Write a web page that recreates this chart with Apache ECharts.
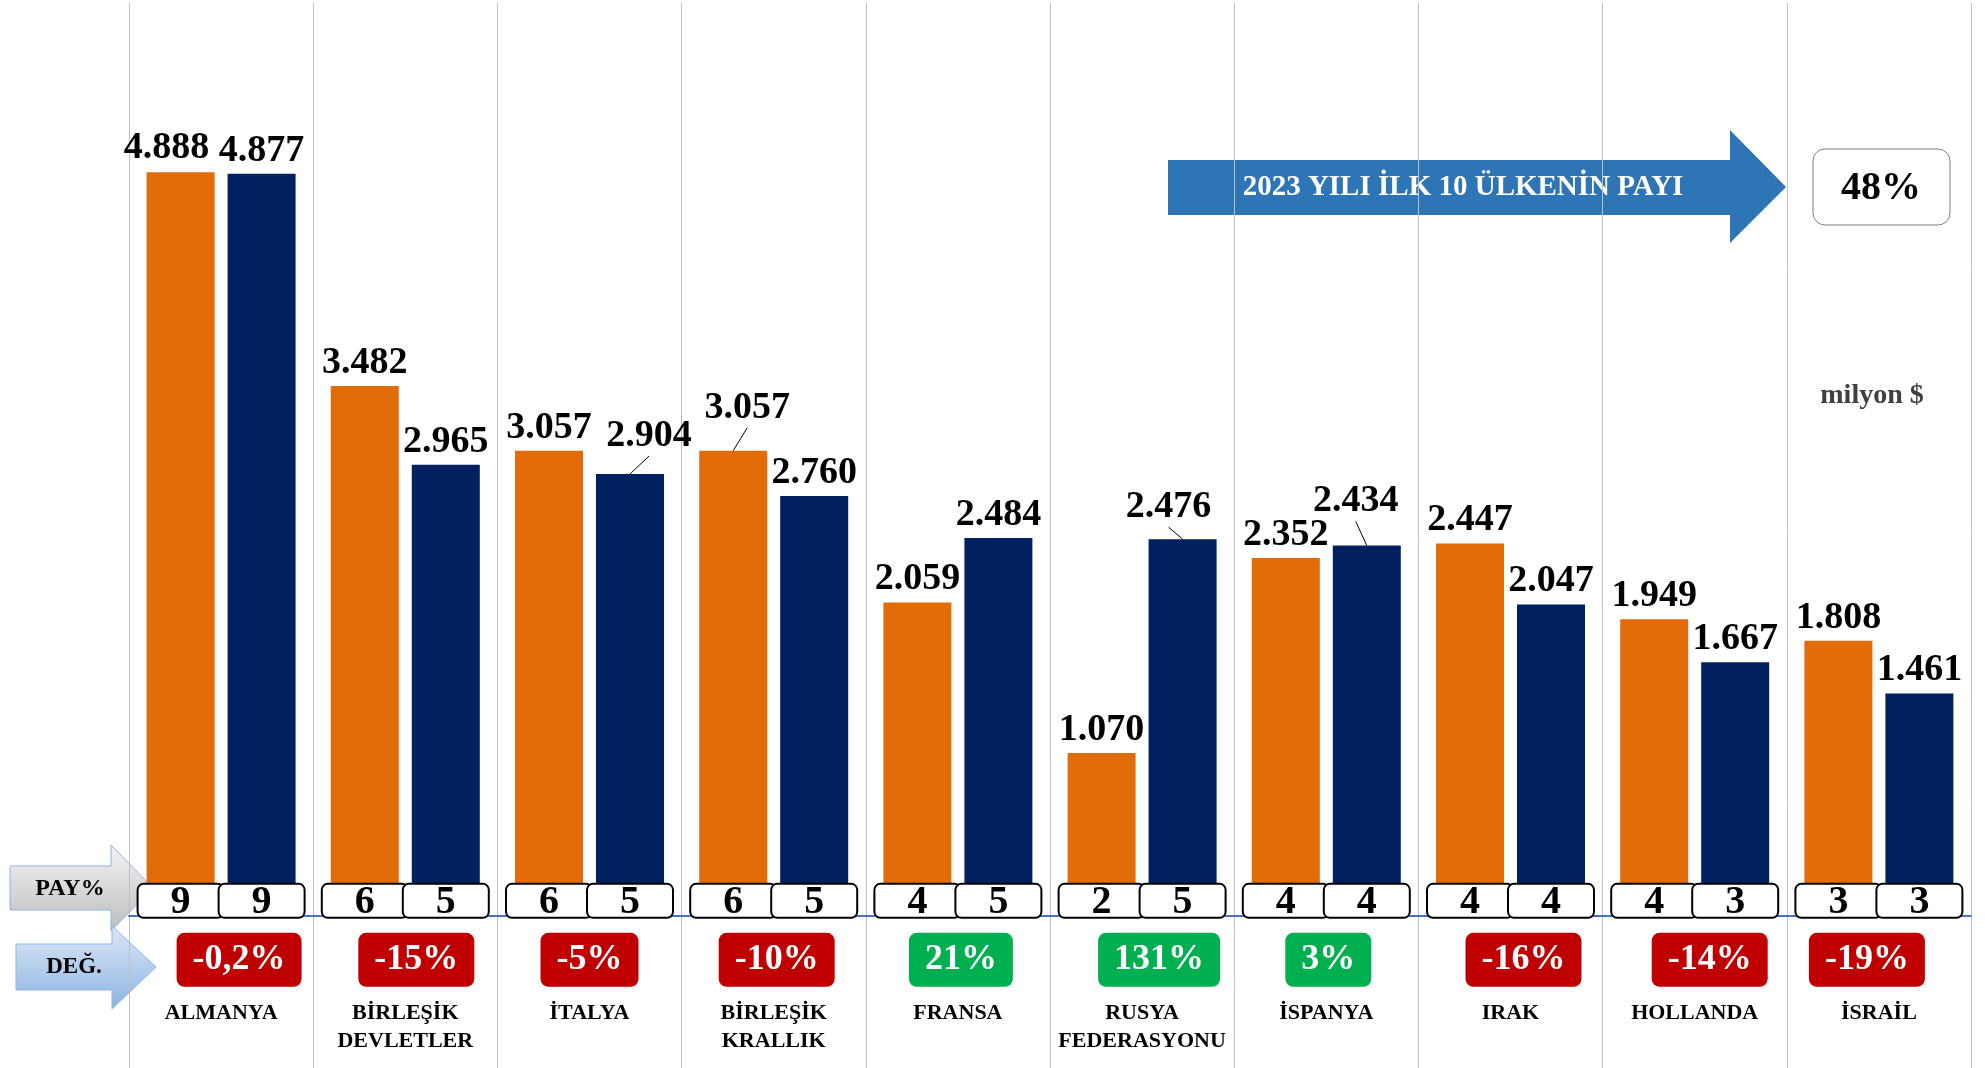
<!DOCTYPE html>
<html>
<head>
<meta charset="utf-8">
<script src="https://cdn.jsdelivr.net/npm/echarts@6/dist/echarts.min.js"></script>
<style>
  html, body { margin: 0; padding: 0; background: #fff; }
  #chart { width: 1985px; height: 1068px; }
</style>
</head>
<body>
<div id="chart"></div>
<script>
// ülkeler
const countries = ['ALMANYA', 'BİRLEŞİK\nDEVLETLER', 'İTALYA', 'BİRLEŞİK\nKRALLIK', 'FRANSA',
  'RUSYA\nFEDERASYONU', 'İSPANYA', 'IRAK', 'HOLLANDA', 'İSRAİL'];
// milyon $
const values2022 = [4888, 3482, 3057, 3057, 2059, 1070, 2352, 2447, 1949, 1808];
const values2023 = [4877, 2965, 2904, 2760, 2484, 2476, 2434, 2047, 1667, 1461];
// PAY %
const pay2022 = [9, 6, 6, 6, 4, 2, 4, 4, 4, 3];
const pay2023 = [9, 5, 5, 5, 5, 5, 4, 4, 3, 3];
// DEĞ. %
const change = [-0.2, -15, -5, -10, 21, 131, 3, -16, -14, -19];
const totalShare = '48%';

// label nudges (px) – a few labels were moved by hand in the original
const labelNudge2022 = { 0: [-14, -1], 3: [14, -20] };
const labelNudge2023 = { 2: [19, -15], 5: [-14, -9], 6: [-11, -21] };
const leader2022 = [3];
const leader2023 = [2, 5, 6];
const degNudge = [18, 11, 0, 3, 3, 17, 2, 13, 15, -12];

const SERIF = '"Liberation Serif", "DejaVu Serif", serif';
const ORANGE = '#E36C0A';
const NAVY = '#002060';
const BAR_W = 68;
const BAR_GAP = 13;
const LABEL_DIST = 4;

const fmt = v => String(v).replace(/\B(?=(\d{3})+(?!\d))/g, '.');
const fmtPct = v => String(v).replace('.', ',') + '%';

const chart = echarts.init(document.getElementById('chart'));

const valueLabel = {
  show: true,
  position: 'top',
  distance: LABEL_DIST,
  color: '#000',
  fontFamily: SERIF,
  fontWeight: 'bold',
  fontSize: 38,
  formatter: p => fmt(p.value)
};

const layoutFrom = nudge => p => {
  const n = nudge[p.dataIndex];
  return n ? { dx: n[0], dy: n[1] } : {};
};

const option = {
  animation: false,
  grid: { left: 129, right: 14, top: 3, bottom: 0, outerBoundsMode: 'none', containLabel: false },
  xAxis: {
    type: 'category',
    data: countries,
    axisLine: { onZero: true, lineStyle: { color: '#4472C4', width: 2 } },
    axisTick: { show: false },
    splitLine: { show: true, lineStyle: { color: '#BFBFBF', width: 1 } },
    axisLabel: { show: false }
  },
  yAxis: {
    type: 'value',
    min: -1000,
    max: 6000,
    show: false,
    splitLine: { show: false }
  },
  series: [
    {
      name: '2022',
      type: 'bar',
      data: values2022,
      barWidth: BAR_W,
      barGap: (BAR_GAP / BAR_W * 100).toFixed(1) + '%',
      itemStyle: { color: ORANGE },
      label: valueLabel,
      labelLayout: layoutFrom(labelNudge2022)
    },
    {
      name: '2023',
      type: 'bar',
      data: values2023,
      barWidth: BAR_W,
      itemStyle: { color: NAVY },
      label: valueLabel,
      labelLayout: layoutFrom(labelNudge2023)
    },
    {
      // PAY% kutuları, DEĞ. etiketleri, ülke adları ve kılavuz çizgileri
      type: 'custom',
      z: 10,
      data: countries.map((c, i) => [i, 0]),
      renderItem: (params, api) => {
        const i = api.value(0);
        const p = api.coord([i, 0]);
        const off = (BAR_W + BAR_GAP) / 2;
        const children = [];

        // leader lines from moved labels to bar tops
        [[values2022, labelNudge2022, leader2022, -off], [values2023, labelNudge2023, leader2023, off]]
          .forEach(([vals, nudge, leaders, dx]) => {
            if (!leaders.includes(i)) return;
            const top = api.coord([i, vals[i]]);
            const bx = p[0] + dx;
            const n = nudge[i];
            children.push({
              type: 'line',
              shape: { x1: bx + n[0], y1: top[1] - LABEL_DIST + n[1] + 1, x2: bx, y2: top[1] },
              style: { stroke: '#000', lineWidth: 1 }
            });
          });

        [[pay2022[i], -off], [pay2023[i], off]].forEach(([v, dx]) => {
          const cx = p[0] + dx;
          children.push({
            type: 'rect',
            shape: { x: cx - 43, y: p[1] - 32, width: 86, height: 34, r: 6 },
            style: { fill: '#fff', stroke: '#000', lineWidth: 2 }
          });
          children.push({
            type: 'text',
            style: {
              text: String(v), x: cx, y: p[1] - 13,
              align: 'center', verticalAlign: 'middle',
              fill: '#000', font: 'bold 40px ' + SERIF
            }
          });
        });
        const c = change[i];
        children.push({
          type: 'text',
          style: {
            text: fmtPct(c), x: p[0] + degNudge[i], y: p[1] + 44,
            align: 'center', verticalAlign: 'middle',
            fill: '#fff', font: 'bold 36px ' + SERIF,
            backgroundColor: c < 0 ? '#C00000' : '#00B050',
            borderRadius: 8,
            padding: [10, 16, 8, 16]
          }
        });
        children.push({
          type: 'text',
          style: {
            text: countries[i], x: p[0], y: p[1] + 83,
            align: 'center', verticalAlign: 'top',
            fill: '#000', font: 'bold 22px ' + SERIF,
            lineHeight: 28
          }
        });
        return { type: 'group', children };
      }
    }
  ],
  graphic: [
    // PAY% ok
    {
      type: 'polygon',
      shape: { points: [[10, 866], [111, 866], [111, 845], [153, 888], [111, 931], [111, 910], [10, 910]] },
      style: {
        fill: new echarts.graphic.LinearGradient(0, 0, 0, 1, [
          { offset: 0, color: '#F4F4F4' }, { offset: 1, color: '#BDBDBD' }
        ]),
        stroke: '#8EB4E3', lineWidth: 1
      }
    },
    {
      type: 'text', x: 70, y: 889,
      style: { text: 'PAY%', align: 'center', verticalAlign: 'middle', fill: '#000', font: 'bold 24px ' + SERIF }
    },
    // DEĞ. ok
    {
      type: 'polygon',
      shape: { points: [[16, 944], [112, 944], [112, 926], [156, 967], [112, 1009], [112, 990], [16, 990]] },
      style: {
        fill: new echarts.graphic.LinearGradient(0, 0, 0, 1, [
          { offset: 0, color: '#DCE8F6' }, { offset: 1, color: '#8DB3E2' }
        ]),
        stroke: '#8EB4E3', lineWidth: 1
      }
    },
    {
      type: 'text', x: 74, y: 967,
      style: { text: 'DEĞ.', align: 'center', verticalAlign: 'middle', fill: '#000', font: 'bold 23px ' + SERIF }
    },
    // başlık oku
    {
      type: 'polygon',
      shape: { points: [[1168, 160], [1730, 160], [1730, 130], [1786, 187], [1730, 243], [1730, 215], [1168, 215]] },
      style: { fill: '#2E75B6' }
    },
    {
      type: 'text', x: 1463, y: 188,
      style: { text: '2023 YILI İLK 10 ÜLKENİN PAYI', align: 'center', verticalAlign: 'middle', fill: '#fff', font: 'bold 29px ' + SERIF }
    },
    {
      type: 'rect',
      shape: { x: 1813, y: 149, width: 137, height: 76, r: 12 },
      style: { fill: '#fff', stroke: '#7F7F7F', lineWidth: 1 }
    },
    {
      type: 'text', x: 1881, y: 189,
      style: { text: totalShare, align: 'center', verticalAlign: 'middle', fill: '#000', font: 'bold 40px ' + SERIF }
    },
    {
      type: 'text', x: 1872, y: 396,
      style: { text: 'milyon $', align: 'center', verticalAlign: 'middle', fill: '#404040', font: 'bold 28px ' + SERIF }
    }
  ]
};

chart.setOption(option);
</script>
</body>
</html>
